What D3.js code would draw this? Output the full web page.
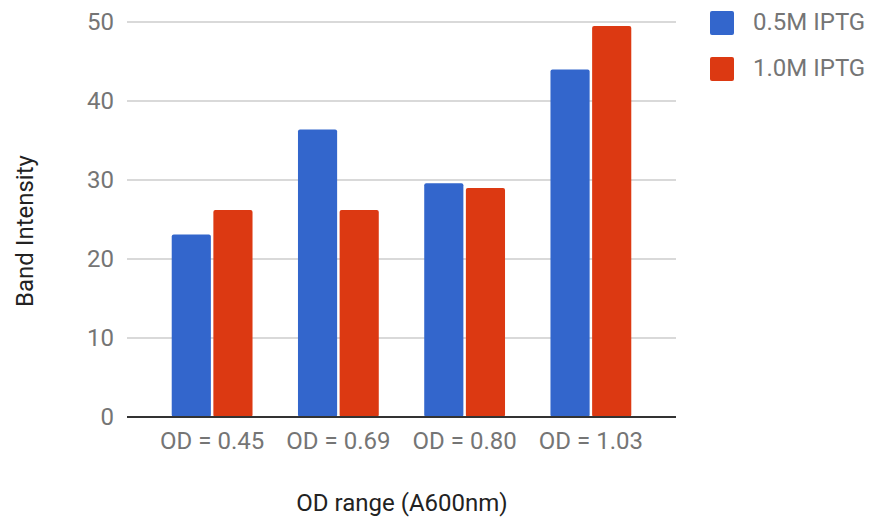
<!DOCTYPE html>
<html>
<head>
<meta charset="utf-8">
<script src="https://cdn.jsdelivr.net/npm/d3@7"></script>
<style>
  html, body { margin: 0; padding: 0; background: #fff; }
  svg { display: block; font-family: Roboto, "Noto Sans", Arial, sans-serif; }
</style>
</head>
<body>
<svg id="chart" width="871" height="519"></svg>
<script>
// Band intensity per OD range, two IPTG concentrations
const categories = ["OD = 0.45", "OD = 0.69", "OD = 0.80", "OD = 1.03"];
const seriesNames = ["0.5M IPTG", "1.0M IPTG"];
const series05 = [23.1, 36.4, 29.6, 44.0];
const series10 = [26.2, 26.2, 29.0, 49.5];
const yTicks = [0, 10, 20, 30, 40, 50];
const colors = ["#3366cc", "#dc3912"];

const svg = d3.select("#chart");
const plot = { left: 127, right: 676, top: 22, bottom: 417 };
const fontSize = 24;

const y = d3.scaleLinear().domain([0, 50]).range([plot.bottom, plot.top]);
const x0 = d3.scaleBand().domain(categories).range([149, 654])
  .paddingInner(0.36).paddingOuter(0.18);
const x1 = d3.scaleBand().domain(seriesNames).range([0, x0.bandwidth()]).paddingInner(0.06);

const rows = categories.map((c, i) => ({ cat: c, vals: [series05[i], series10[i]] }));

// Gridlines
svg.append("g").selectAll("line").data(yTicks.filter(d => d !== 0)).join("line")
  .attr("x1", plot.left).attr("x2", plot.right)
  .attr("y1", d => y(d)).attr("y2", d => y(d))
  .attr("stroke", "#cccccc").attr("stroke-width", 1.5);

// Y axis tick labels
const yAxis = d3.axisLeft(y).tickValues(yTicks).tickSize(0).tickPadding(13);
const gy = svg.append("g").attr("transform", `translate(${plot.left},0)`).call(yAxis);
gy.select(".domain").remove();
gy.selectAll("text").attr("fill", "#757575").attr("font-size", fontSize)
  .attr("font-family", "Roboto, sans-serif");

// Bars
const groups = svg.append("g").selectAll("g").data(rows).join("g")
  .attr("transform", d => `translate(${x0(d.cat)},0)`);
groups.selectAll("rect").data(d => d.vals.map((v, k) => ({ v, k }))).join("rect")
  .attr("x", d => x1(seriesNames[d.k]))
  .attr("width", x1.bandwidth())
  .attr("y", d => y(d.v))
  .attr("height", d => y(0) - y(d.v))
  .attr("rx", 2).attr("ry", 2)
  .attr("fill", d => colors[d.k]);

// Baseline
svg.append("line")
  .attr("x1", plot.left).attr("x2", plot.right)
  .attr("y1", y(0)).attr("y2", y(0))
  .attr("stroke", "#333333").attr("stroke-width", 2);

// X axis labels
const xAxis = d3.axisBottom(x0).tickSize(0).tickPadding(15);
const gx = svg.append("g").attr("transform", `translate(0,${y(0)})`).call(xAxis);
gx.select(".domain").remove();
gx.selectAll("text").attr("fill", "#757575").attr("font-size", fontSize)
  .attr("font-family", "Roboto, sans-serif");

// Axis titles
svg.append("text").attr("x", 402).attr("y", 511).attr("text-anchor", "middle")
  .attr("fill", "#222222").attr("font-size", fontSize).text("OD range (A600nm)");
svg.append("text").attr("transform", "translate(33,231) rotate(-90)")
  .attr("text-anchor", "middle").attr("fill", "#222222").attr("font-size", fontSize)
  .text("Band Intensity");

// Legend
const legend = svg.append("g").selectAll("g").data(seriesNames).join("g")
  .attr("transform", (d, i) => `translate(710,${11 + i * 46})`);
legend.append("rect").attr("width", 24).attr("height", 24).attr("rx", 2)
  .attr("fill", (d, i) => colors[i]);
legend.append("text").attr("x", 43).attr("y", 18.5)
  .attr("fill", "#757575").attr("font-size", fontSize).text(d => d);
</script>
</body>
</html>
